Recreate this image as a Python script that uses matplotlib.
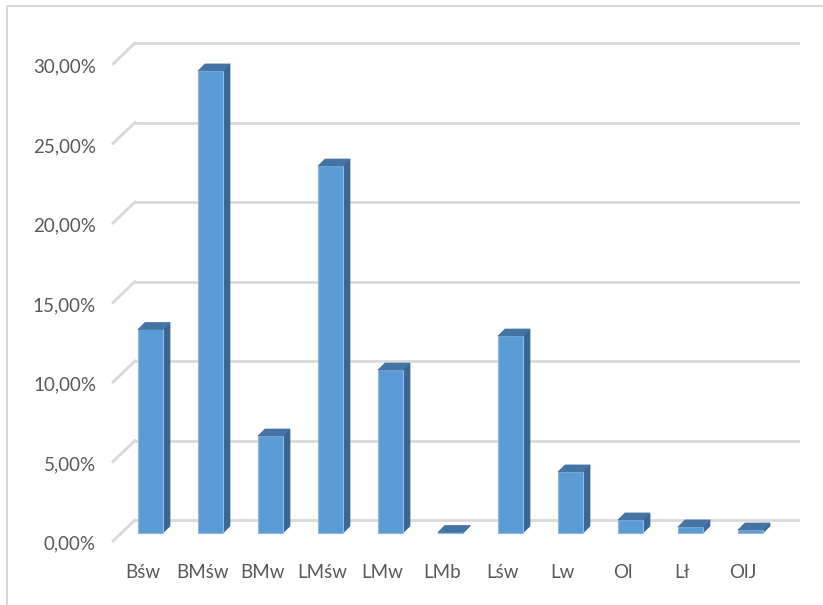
import matplotlib
matplotlib.use("Agg")
import matplotlib.pyplot as plt
from matplotlib.patches import Polygon, Rectangle

plt.rcParams['font.family'] = ['Lato', 'DejaVu Sans']

categories = ['Bśw', 'BMśw', 'BMw', 'LMśw', 'LMw', 'LMb', 'Lśw', 'Lw', 'Ol', 'Lł', 'OlJ']
values = [12.8, 29.06, 6.1, 23.08, 10.25, 0.04, 12.39, 3.84, 0.82, 0.38, 0.19]
y_ticks = [0, 5, 10, 15, 20, 25, 30]
y_tick_labels = ['0,00%', '5,00%', '10,00%', '15,00%', '20,00%', '25,00%', '30,00%']

# pixel layout of the fake 3d (excel style) chart
W, H = 823, 605
X0, PX_CAT = 150.5, 60.0      # bar front face center of the first category, px per category
Y0, PX_PCT = 533.0, 15.9      # bar base, px per percent


def px(dx, dy):
    # pixel offset -> data offset (screen y down)
    return dx / PX_CAT, -dy / PX_PCT


fig = plt.figure(figsize=(W / 100, H / 100), dpi=100)
ax = fig.add_axes([0, 0, 1, 1])
ax.set_xlim(-X0 / PX_CAT, (W - X0) / PX_CAT)
ax.set_ylim(-(H - Y0) / PX_PCT, Y0 / PX_PCT)
ax.axis('off')

# outer chart frame
fig.patches.append(Rectangle((7 / W, -0.1), 1.2, 1 - 6 / H + 0.1, transform=fig.transFigure,
                             fill=False, edgecolor='#d9d9d9', lw=1.5))

back_dx, back_dy = px(14, -13)
front_dx, front_dy = px(-8, 8)
front_left = px(113 - X0, 0)[0]
left_back = px(135 - X0, 0)[0]
right_back = px(798 - X0, 0)[0]

# back wall + side wall gridlines
for t in y_ticks:
    ax.plot([left_back, right_back], [t + back_dy, t + back_dy], color='#d9d9d9', lw=2, zorder=1)
    ax.plot([front_left, left_back], [t + front_dy, t + back_dy], color='#d9d9d9', lw=2, zorder=1)

# tick labels
lx = px(96 - X0, 0)[0]
for t, lab in zip(y_ticks, y_tick_labels):
    ax.text(lx, t + front_dy + px(0, 3)[1], lab, ha='right', va='center', fontsize=13.5, color='#595959')

xs = list(range(len(categories)))
for x, lab in zip(xs, categories):
    ax.text(x + front_dx, px(0, 573 - Y0)[1], lab, ha='center', va='center', fontsize=13.5, color='#595959')

# bars
bw = 25 / PX_CAT
ddx, ddy = px(7, -7)
ax.bar(xs, values, width=bw, color='#5b9bd5', edgecolor='#8dbbe6', lw=0.8, zorder=3)
for x, v in zip(xs, values):
    r = x + bw / 2
    l = x - bw / 2
    side = Polygon([(r, 0), (r + ddx, ddy), (r + ddx, v + ddy), (r, v)], closed=True,
                   facecolor='#3c6690', edgecolor='#3c6690', lw=0.5, zorder=2)
    top = Polygon([(l, v), (r, v), (r + ddx, v + ddy), (l + ddx, v + ddy)], closed=True,
                  facecolor='#4474a3', edgecolor='#4474a3', lw=0.5, zorder=4)
    ax.add_patch(side)
    ax.add_patch(top)

fig.savefig('out.png', dpi=100)
